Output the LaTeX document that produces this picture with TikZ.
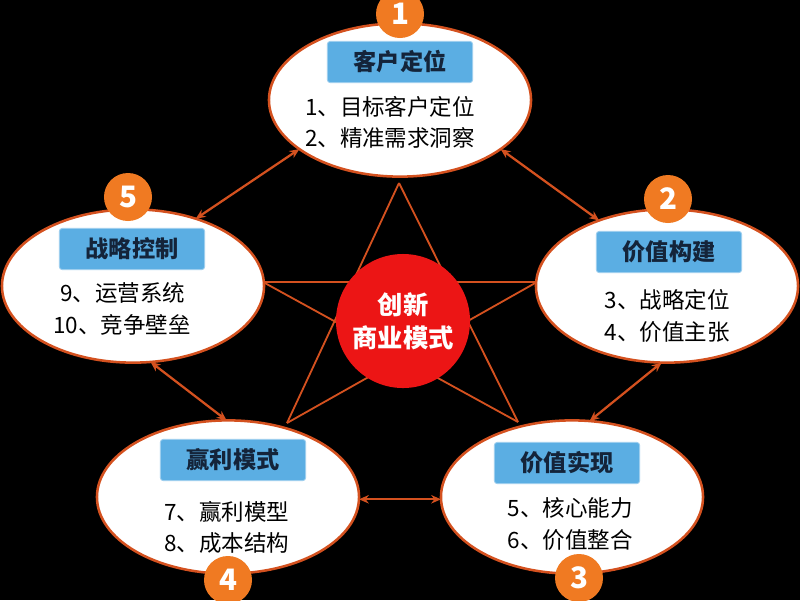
\documentclass[tikz,border=0pt]{standalone}
\usepackage{xcolor}
\usepackage{fontspec}
\newfontfamily\cjk{Noto Sans CJK SC}
\usepackage{tikz}
\usetikzlibrary{shapes.geometric,arrows.meta}
\definecolor{linered}{HTML}{D4511F}
\definecolor{boxblue}{HTML}{5BAEE3}
\definecolor{boxtext}{HTML}{14243A}
\definecolor{badgeorange}{HTML}{F07A22}
\definecolor{corered}{HTML}{EC1515}
\tikzset{
  part/.style={ellipse, minimum width=6.55cm, minimum height=3.83cm, inner sep=0pt, outer sep=0pt, fill=white, draw=linered, line width=1.8pt},
  headbox/.style={rectangle, rounded corners=2pt, minimum width=3.63cm, minimum height=1.03cm, fill=boxblue, draw=boxblue!60!white, line width=0.6pt, text=boxtext, font=\cjk\bfseries\fontsize{16.5}{18}\selectfont},
  item/.style={inner sep=0pt, text=black, font=\cjk\fontsize{16}{18}\selectfont},
  badge/.style={circle, minimum size=1.2cm, inner sep=0pt, fill=badgeorange, text=white, font=\cjk\bfseries\fontsize{21}{22}\selectfont},
  link/.style={linered, line width=1.6pt, {Stealth[length=7pt,width=6pt]}-{Stealth[length=7pt,width=6pt]}},
  starline/.style={linered, line width=1.3pt}
}

\begin{document}
\begin{tikzpicture}[x=0.025cm, y=-0.025cm]
\useasboundingbox (0,0) rectangle (800,600);
\fill[black] (0,0) rectangle (800,600);
% star behind the centre
\coordinate (starT) at (399,183);
\coordinate (starL) at (263,282);
\coordinate (starR) at (537,282);
\coordinate (starBL) at (287,423);
\coordinate (starBR) at (518,422);
\draw[starline] (starT) -- (starBL);
\draw[starline] (starT) -- (starBR);
\draw[starline] (starL) -- (starR);
\draw[starline] (starL) -- (starBR);
\draw[starline] (starR) -- (starBL);
\node at (403,321) [circle, minimum size=3.35cm, inner sep=0pt, fill=corered, text=white, align=center, font=\cjk\bfseries\fontsize{18}{23.5}\selectfont] (core) {创新\\商业模式};
% five parts
\node at (400,100) [part] (customer) {};
\node at (667,286) [part] (build) {};
\node at (572,497) [part] (realize) {};
\node at (228,497) [part] (profit) {};
\node at (133,286) [part] (control) {};
\node at (400,62) [headbox] (customerhead) {客户定位};
\node at (669,252) [headbox] (buildhead) {价值构建};
\node at (567,463) [headbox] (realizehead) {价值实现};
\node at (233,460) [headbox] (profithead) {赢利模式};
\node at (132,249) [headbox] (controlhead) {战略控制};
\node at (390,107) [item] (customer1) {1、目标客户定位};
\node at (390,138) [item] (customer2) {2、精准需求洞察};
\node at (667,300) [item] (build1) {3、战略定位};
\node at (667,332) [item] (build2) {4、价值主张};
\node at (570,508) [item] (realize1) {5、核心能力};
\node at (570,540) [item] (realize2) {6、价值整合};
\node at (227,512) [item] (profit1) {7、赢利模型};
\node at (227,543) [item] (profit2) {8、成本结构};
\node at (123,293) [item] (control1) {9、运营系统};
\node at (122,325) [item] (control2) {10、竞争壁垒};
\node at (400,14) [badge] (customerno) {1};
\node at (668,199) [badge] (buildno) {2};
\node at (579,578) [badge] (realizeno) {3};
\node at (228,580) [badge] (profitno) {4};
\node at (128,197) [badge] (controlno) {5};
% arrows round the ring
\draw[link] (customer.206) -- (control.47);
\draw[link] (customer.334) -- (build.136);
\draw[link] (build.266) -- (realize.77);
\draw[link] (realize.181) -- (profit.359);
\draw[link] (profit.91) -- (control.283);
\end{tikzpicture}
\end{document}
